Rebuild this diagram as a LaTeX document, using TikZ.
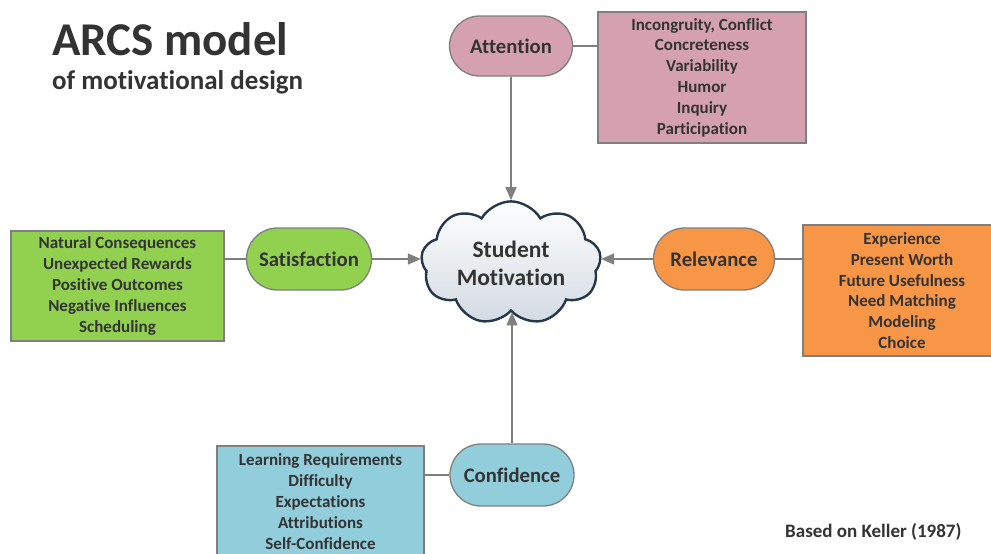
\documentclass[tikz,border=0pt]{standalone}
\usepackage{fontspec}
\setmainfont{Carlito}[Ligatures=NoCommon]
\usetikzlibrary{shapes.misc,shapes.symbols,arrows.meta}

\definecolor{ink}{HTML}{333333}
\definecolor{edge}{HTML}{7F7F7F}
\definecolor{cloudedge}{HTML}{25374A}
\definecolor{cloudshade}{HTML}{D3DAE2}
\definecolor{attfill}{HTML}{D5A1B0}
\definecolor{satfill}{HTML}{92D050}
\definecolor{relfill}{HTML}{F79646}
\definecolor{conffill}{HTML}{92CDDC}

\begin{document}
\begin{tikzpicture}[x=1pt,y=-1pt,
  pill/.style={rounded rectangle, draw=edge, line width=1.3pt,
    minimum width=123pt, minimum height=60pt, inner sep=0pt,
    text=ink, font=\bfseries\fontsize{20.7}{24}\selectfont},
  listbox/.style={rectangle, draw=edge, line width=1.3pt, inner sep=0pt,
    align=center, text=ink, font=\bfseries\fontsize{17}{20.8}\selectfont},
  link/.style={draw=edge, line width=1.4pt},
  feed/.style={link, -{Triangle[length=13pt,width=11pt]}},
  motiv/.style={cloud, cloud puffs=9, cloud puff arc=120, aspect=1.55,
    draw=cloudedge, line width=2.4pt, top color=white, bottom color=cloudshade,
    minimum width=180pt, minimum height=116pt, inner sep=0pt, align=center,
    text=ink, font=\bfseries\fontsize{23.5}{28}\selectfont}
]
\useasboundingbox (0,0) rectangle (991,554);
\clip (0,0) rectangle (991,554);

% title
\node[anchor=base west, inner sep=0pt, text=ink,
  font=\bfseries\fontsize{47}{50}\selectfont] (title) at (52,55) {ARCS model};
\node[anchor=base west, inner sep=0pt, text=ink,
  font=\bfseries\fontsize{27}{30}\selectfont] (subtitle) at (52,89) {of motivational design};

% central cloud
\node[motiv] (core) at (511,263) {Student\\Motivation};

% the four components
\node[pill, fill=attfill] (att) at (511,46) {Attention};
\node[pill, fill=satfill, minimum height=62pt, minimum width=125pt] (sat) at (309,259) {Satisfaction};
\node[pill, fill=relfill, minimum height=62pt, minimum width=121pt] (rel) at (714,259) {Relevance};
\node[pill, fill=conffill, minimum height=62pt, minimum width=124pt] (conf) at (512,475) {Confidence};

% strategy lists
\node[listbox, fill=attfill, minimum width=208pt, minimum height=131pt] (attlist) at (702,77.5)
  {Incongruity, Conflict\\Concreteness\\Variability\\Humor\\Inquiry\\Participation};
\node[listbox, fill=satfill, minimum width=213pt, minimum height=110pt] (satlist) at (117.5,286)
  {Natural Consequences\\Unexpected Rewards\\Positive Outcomes\\Negative Influences\\Scheduling};
\node[listbox, fill=relfill, minimum width=198pt, minimum height=131pt] (rellist) at (902,290.5)
  {Experience\\Present Worth\\Future Usefulness\\Need Matching\\Modeling\\Choice};
\node[listbox, fill=conffill, minimum width=207pt, minimum height=111pt] (conflist) at (320.5,501.5)
  {Learning Requirements\\Difficulty\\Expectations\\Attributions\\Self-Confidence};

% links from components to their lists
\draw[link] (att.east) -- (attlist.west |- att.east);
\draw[link] (satlist.east |- sat.west) -- (sat.west);
\draw[link] (rel.east) -- (rellist.west |- rel.east);
\draw[link] (conflist.east |- conf.west) -- (conf.west);

% arrows into the cloud
\draw[feed] (att.south) -- (core.north -| att.south);
\draw[feed] (sat.east) -- (core.west |- sat.east);
\draw[feed] (rel.west) -- (core.east |- rel.west);
\draw[feed] (conf.north) -- (core.south -| conf.north);

% source note
\node[anchor=base west, inner sep=0pt, text=ink,
  font=\bfseries\fontsize{19}{22}\selectfont] (source) at (785,537) {Based on Keller (1987)};
\end{tikzpicture}
\end{document}
